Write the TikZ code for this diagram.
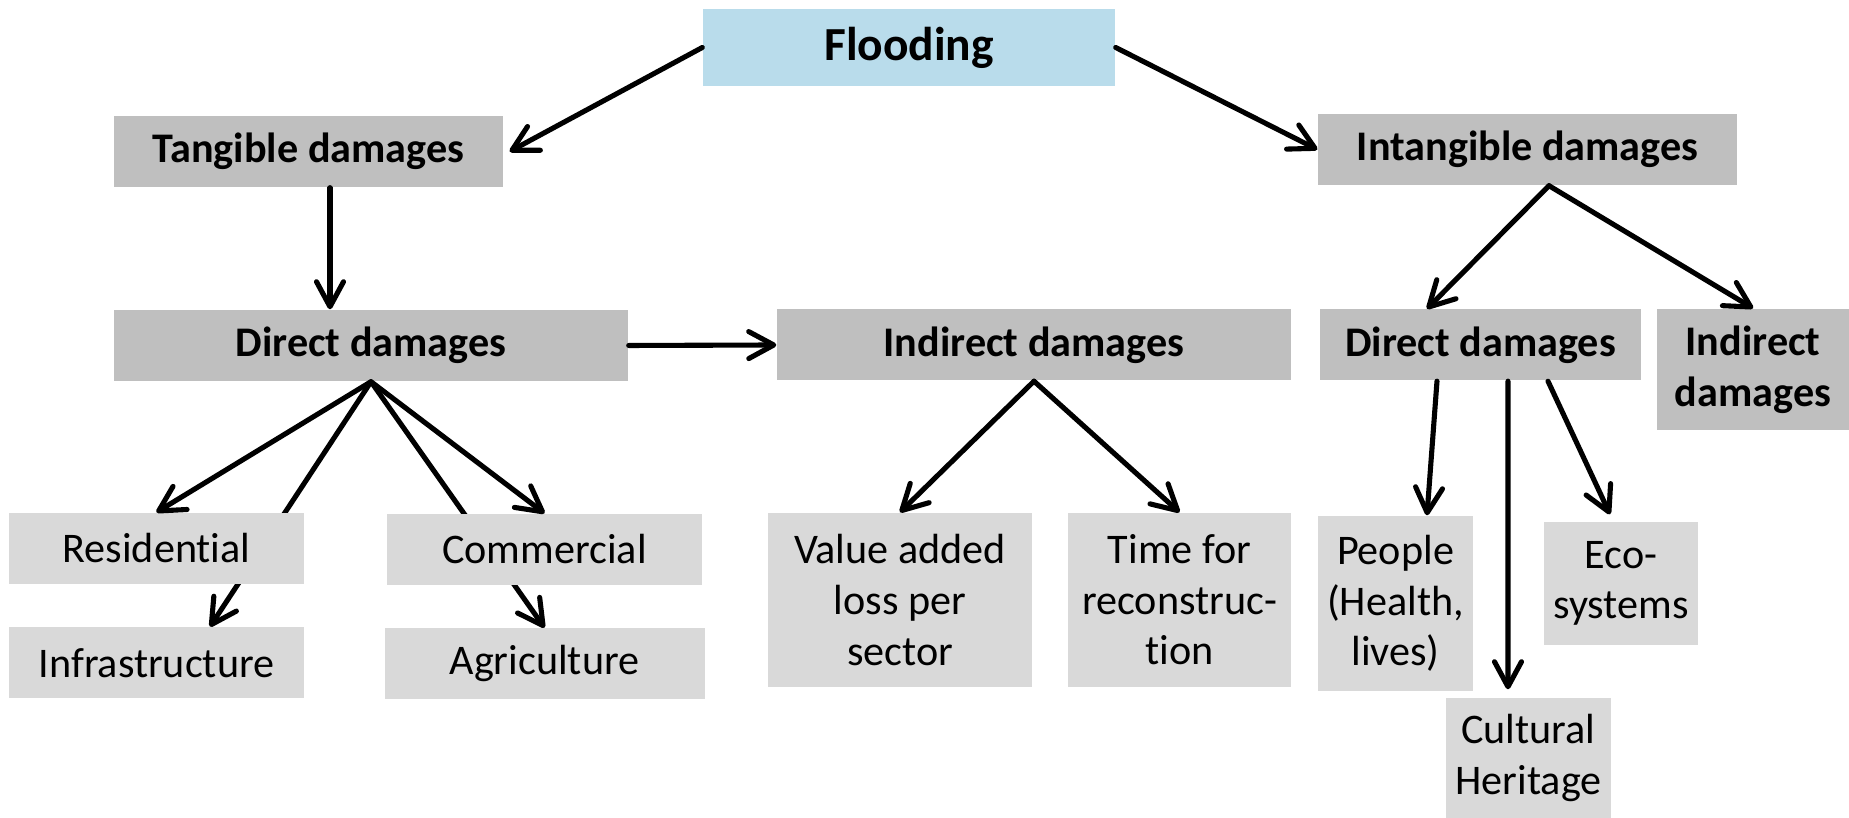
\documentclass[tikz,border=0pt]{standalone}
\usepackage{fontspec}
\setmainfont{Carlito}[Ligatures=CommonOff]
\usetikzlibrary{arrows.meta,positioning,backgrounds}
\definecolor{FloodBlue}{HTML}{B9DCEB}
\definecolor{DarkBox}{HTML}{BFBFBF}
\definecolor{LightBox}{HTML}{D9D9D9}
\tikzset{
    head/.style = {fill=FloodBlue, rectangle, inner sep=0pt,
        font=\bfseries\fontsize{13.5}{16}\selectfont},
    block/.style = {fill=DarkBox, rectangle, inner sep=0pt, align=center,
        minimum height=0.71cm, font=\bfseries\fontsize{12}{14.4}\selectfont},
    leaf/.style = {fill=LightBox, rectangle, inner sep=0pt, align=center,
        minimum height=0.71cm, font=\fontsize{12}{14.4}\selectfont},
    arrow/.style = {draw, line width=1.45pt, line cap=round,
        -{Straight Barb[length=2.5mm,width=2.7mm,round]}}
}

\begin{document}
\begin{tikzpicture}
    \useasboundingbox (0,0) rectangle (18.49,-8.18);
    % top of the tree
    \node [head, minimum width=4.12cm, minimum height=0.77cm] (flood) at (9.09,-0.475) {Flooding};
    \node [block, minimum width=3.89cm] (tang) at (3.085,-1.515) {Tangible damages};
    \node [block, minimum width=4.19cm] (intang) at (15.275,-1.495) {Intangible damages};
    % second row
    \node [block, minimum width=5.14cm] (tdir) at (3.71,-3.455) {Direct damages};
    \node [block, minimum width=5.14cm] (tind) at (10.34,-3.45) {Indirect damages};
    \node [block, minimum width=3.21cm] (idir) at (14.805,-3.45) {Direct damages};
    \node [block, minimum width=1.92cm, minimum height=1.21cm] (iind) at (17.53,-3.695) {Indirect\\damages};
    % leaves
    \node [leaf, minimum width=2.95cm] (resid) at (1.565,-5.485) {Residential};
    \node [leaf, minimum width=2.95cm, below=0.42cm of resid] (infra) {Infrastructure};
    \node [leaf, minimum width=3.15cm] (comm) at (5.445,-5.495) {Commercial};
    \node [leaf, minimum width=3.2cm, below=0.42cm of comm] (agri) {Agriculture};
    \node [leaf, minimum width=2.64cm, minimum height=1.74cm] (value) at (9.0,-6.0) {Value added\\loss per\\sector};
    \node [leaf, minimum width=2.23cm, minimum height=1.74cm] (time) at (11.795,-6.0) {Time for\\reconstruc-\\tion};
    \node [leaf, minimum width=1.55cm, minimum height=1.75cm] (people) at (13.955,-6.035) {People\\(Health,\\lives)};
    \node [leaf, minimum width=1.65cm, minimum height=1.2cm] (cult) at (15.285,-7.58) {Cultural\\Heritage};
    \node [leaf, minimum width=1.54cm, minimum height=1.23cm] (eco) at (16.21,-5.835) {Eco-\\systems};
    % connectors
    \draw [arrow] (flood.west) -- ([xshift=0.06cm]tang.east);
    \draw [arrow] (flood.east) -- (intang.west);
    \draw [arrow] ([xshift=0.215cm]tang.south) -- ([xshift=-0.41cm]tdir.north);
    \draw [arrow] (tdir.east) -- (tind.west);
    \draw [arrow] (tdir.south) -- (resid.north);
    \draw [arrow] (tdir.south) -- (comm.north);
    \begin{scope}[on background layer]
        \draw [arrow] (tdir.south) -- ([xshift=0.535cm]infra.north);
        \draw [arrow] (tdir.south) -- (agri.north);
    \end{scope}
    \draw [arrow] (tind.south) -- (value.north);
    \draw [arrow] (tind.south) -- (time.north);
    \draw [arrow] ([xshift=0.215cm]intang.south) -- ([xshift=-0.535cm]idir.north);
    \draw [arrow] ([xshift=0.215cm]intang.south) -- (iind.north);
    \draw [arrow] ([xshift=-0.435cm]idir.south) -- ([xshift=0.315cm]people.north);
    \draw [arrow] ([xshift=0.275cm]idir.south) -- ([xshift=-0.205cm,yshift=0.08cm]cult.north);
    \draw [arrow] ([xshift=0.675cm]idir.south) -- ([xshift=-0.11cm,yshift=0.07cm]eco.north);
\end{tikzpicture}
\end{document}
